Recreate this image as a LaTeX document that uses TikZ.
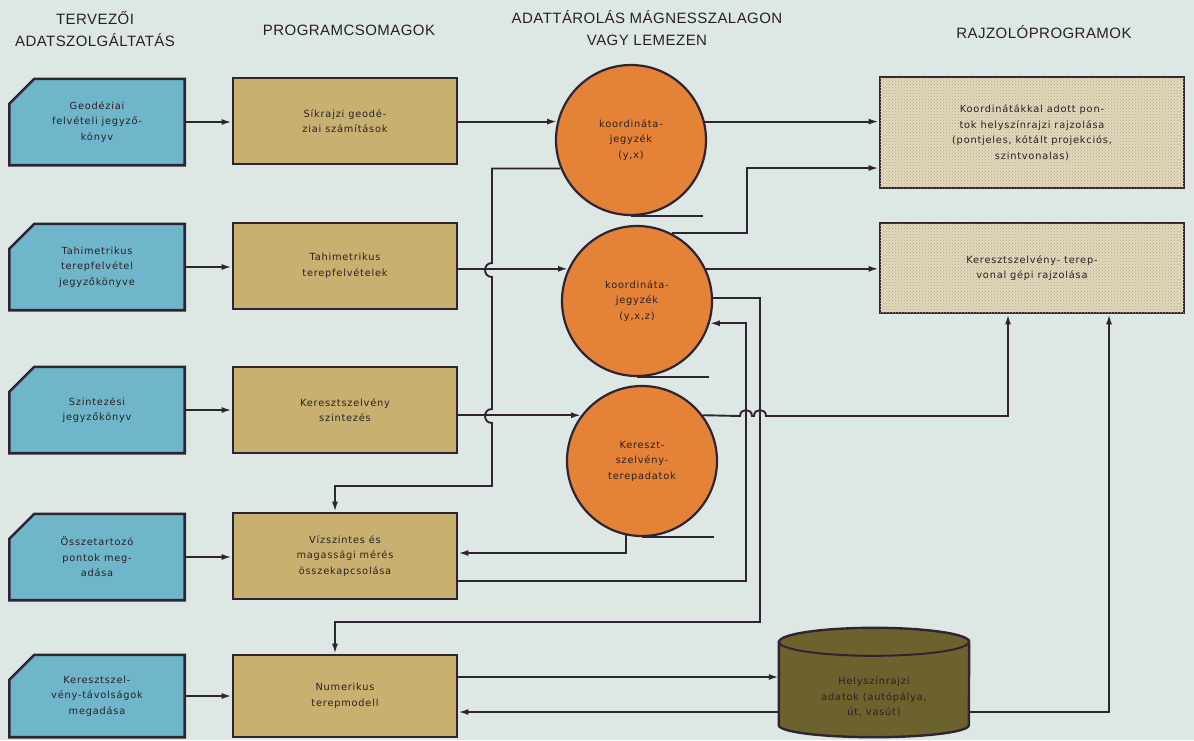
\documentclass[tikz,border=0pt]{standalone}
\usepackage{fontspec}
\usepackage{xcolor}
\usetikzlibrary{calc,arrows.meta,patterns}
\setmainfont{DejaVu Sans}
\newfontfamily\headFont[LetterSpace=3]{Liberation Sans}
\newfontfamily\boxFont[LetterSpace=8]{DejaVu Sans}
\definecolor{paperBg}{RGB}{221,232,228}
\definecolor{inputBlue}{RGB}{112,182,203}
\definecolor{programTan}{RGB}{200,177,112}
\definecolor{storeOrange}{RGB}{228,130,56}
\definecolor{plotBeige}{RGB}{226,217,190}
\definecolor{plotDots}{RGB}{185,165,125}
\definecolor{cylOlive}{RGB}{108,98,46}
\definecolor{lineInk}{RGB}{48,36,52}
\definecolor{textInk}{RGB}{42,32,36}
\pgfdeclarelayer{paper}
\pgfdeclarelayer{shapes}
\pgfsetlayers{paper,shapes,main}

\begin{document}
\begin{tikzpicture}[x=1pt,y=-1pt,
  heading/.style={font=\headFont\fontsize{15}{22}\selectfont,text=textInk,align=center,inner sep=0pt},
  boxtext/.style={font=\boxFont\fontsize{9.8}{15.5}\selectfont,text=textInk,align=center},
  inbox/.style={boxtext,minimum width=175pt,minimum height=86pt,inner sep=0pt},
  inshape/.style={fill=inputBlue,draw=lineInk,line width=2.6pt,line join=miter},
  progbox/.style={boxtext,draw=lineInk,fill=programTan,line width=2.6pt,minimum width=224pt,minimum height=86pt},
  store/.style={boxtext,circle,draw=lineInk,fill=storeOrange,line width=2.2pt,minimum size=150pt,inner sep=0pt},
  plotbox/.style={boxtext,draw=lineInk,fill=plotBeige,postaction={pattern=crosshatch dots,pattern color=plotDots},line width=2.6pt,minimum width=304pt},
  cylshape/.style={fill=cylOlive,draw=lineInk,line width=2.4pt},
  flow/.style={draw=lineInk,line width=1.9pt,-{Latex[length=10pt,width=6pt]}},
  tape/.style={draw=lineInk,line width=2pt}
]
\begin{pgfonlayer}{paper}
\fill[paperBg] (0,0) rectangle (1194,740);
\end{pgfonlayer}
\useasboundingbox (0,0) rectangle (1194,740);

% column headings
\node[heading] (hdInput) at (95,29) {TERVEZŐI\\ADATSZOLGÁLTATÁS};
\node[heading] (hdProg) at (349,30) {PROGRAMCSOMAGOK};
\node[heading] (hdStore) at (647,28) {ADATTÁROLÁS MÁGNESSZALAGON\\VAGY LEMEZEN};
\node[heading] (hdPlot) at (1044,32) {RAJZOLÓPROGRAMOK};

% input documents
\node[inbox] (in1) at (97,122) {Geodéziai\\felvételi jegyző-\\könyv};
\node[inbox] (in2) at (97,267) {Tahimetrikus\\terepfelvétel\\jegyzőkönyve};
\node[inbox] (in3) at (97,410) {Szintezési\\jegyzőkönyv};
\node[inbox] (in4) at (97,557) {Összetartozó\\pontok meg-\\adása};
\node[inbox,minimum height=82pt] (in5) at (97,696) {Keresztszel-\\vény-távolságok\\megadása};

% program packages
\node[progbox] (prog1) at (345,121) {Síkrajzi geodé-\\ziai számítások};
\node[progbox] (prog2) at (345,266) {Tahimetrikus\\terepfelvételek};
\node[progbox] (prog3) at (345,410) {Keresztszelvény\\szintezés};
\node[progbox] (prog4) at (345,556) {Vízszintes és\\magassági mérés\\összekapcsolása};
\node[progbox,minimum height=82pt] (prog5) at (345,696) {Numerikus\\terepmodell};

% tapes
\node[store] (tape1) at (631,140) {koordináta-\\jegyzék\\(y,x)};
\node[store] (tape2) at (637,301) {koordináta-\\jegyzék\\(y,x,z)};
\node[store] (tape3) at (642,461) {Kereszt-\\szelvény-\\terepadatok};
\foreach \i in {1,2,3}
  \draw[tape] (tape\i.south) -- ++(72,0);

% disk
\node[boxtext,minimum width=190pt,minimum height=82pt,inner sep=0pt] (cyl) at (874,697) {Helyszínrajzi\\adatok (autópálya,\\út, vasút)};

% plotting programs
\node[plotbox,minimum height=111pt] (plot1) at (1032,132.5) {Koordinátákkal adott pon-\\tok helyszínrajzi rajzolása\\(pontjeles, kótált projekciós,\\szintvonalas)};
\node[plotbox,minimum height=90pt] (plot2) at (1032,268) {Keresztszelvény- terep-\\vonal gépi rajzolása};

\begin{pgfonlayer}{shapes}
\foreach \i in {1,...,5}
  \path[inshape] (in\i.south west) -- ([yshift=-25pt]in\i.north west) -- ([xshift=25pt]in\i.north west) -- (in\i.north east) -- (in\i.south east) -- cycle;
\path[cylshape] ([yshift=14pt]cyl.north west) -- ([yshift=13pt]cyl.south west) arc[start angle=180,end angle=0,x radius=95,y radius=12] -- ([yshift=14pt]cyl.north east) arc[start angle=0,end angle=-180,x radius=95,y radius=14] -- cycle;
\draw[tape] ([yshift=14pt]cyl.north west) arc[start angle=180,end angle=0,x radius=95,y radius=14];
\end{pgfonlayer}

% connections
\foreach \i in {1,...,5}
  \draw[flow] (in\i.east) -- (in\i.east -| prog\i.west);
\draw[flow] (prog1.east |- tape1.166) -- (tape1.166);
\draw[flow] (prog2.east |- tape2.155) -- (tape2.155);
\draw[flow] (prog3.east |- tape3.143) -- (tape3.143);
\draw[flow] (tape1.14) -- (tape1.14 -| plot1.west);
\draw[flow] (tape2.25) -- (tape2.25 -| plot2.west);
\draw[flow] (tape2.63) -| (747,168) -- (plot1.west |- 747,168);
\draw[flow] (tape1.202) -- (tape1.202 -| 492,0) -- (492,263) .. controls +(-9.3,0) and +(-9.3,0) .. (492,277) -- (492,409) .. controls +(-9.3,0) and +(-9.3,0) .. (492,423) -- (492,486) -| ([xshift=-10pt]prog4.north);
\draw[flow] (tape3.258) |- ([yshift=3pt]prog4.east);
\draw[flow] ([yshift=-25pt]prog4.east) -| (tape2.343 -| 746,0) -- (tape2.343);
\draw[flow] (tape2.2) -| (760,622) -| ([xshift=-10pt]prog5.north);
\draw[flow] (tape3.37) -- (740,416) .. controls +(0,-8) and +(0,-8) .. (752,416) -- (754,416) .. controls +(0,-8) and +(0,-8) .. (766,416) -| ([xshift=-24pt]plot2.south);
\coordinate (toDisk) at ([yshift=19pt]prog5.east);
\coordinate (fromDisk) at ([yshift=-16pt]prog5.east);
\draw[flow] (toDisk) -- (toDisk -| cyl.west);
\draw[flow] (fromDisk -| cyl.west) -- (fromDisk);
\draw[flow] ([yshift=-15pt]cyl.east) -| ([xshift=77pt]plot2.south);
\end{tikzpicture}
\end{document}
